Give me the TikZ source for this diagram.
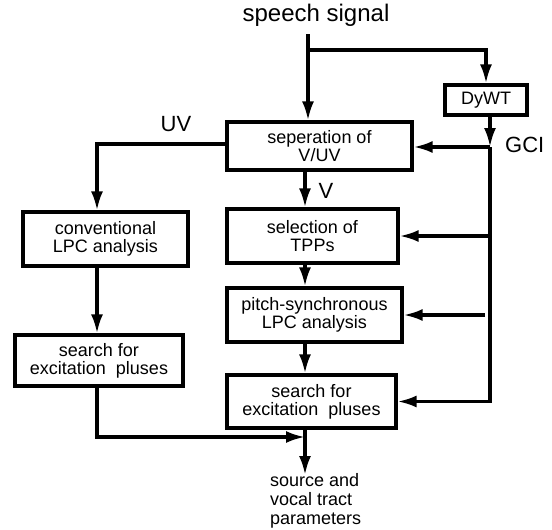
\documentclass[tikz,border=0pt]{standalone}
\usepackage{fontspec}
\setmainfont{Liberation Sans}
\usetikzlibrary{arrows.meta,positioning}
\tikzset{
	block/.style={draw, line width=3.2pt, align=center, inner sep=1pt, font=\fontsize{18}{18}\selectfont},
	flow/.style={line width=3.2pt, -{Latex[length=19pt,width=12pt]}},
	lbl/.style={font=\fontsize{22}{22}\selectfont, inner sep=0pt}
}
\begin{document}
\begin{tikzpicture}[x=1pt, y=-1pt]
			\useasboundingbox (0,0) rectangle (552,530);
			\node [lbl, font=\fontsize{24}{24}\selectfont] (sig) at (316,15) {speech signal};
			\node [block, minimum width=185pt, minimum height=48pt] (sep) at (319.5,146) {seperation of\\V/UV};
			\node [block, minimum width=82pt, minimum height=30pt] (dywt) at (486,100) {DyWT};
			\node [block, minimum width=165pt, minimum height=54pt] (conv) at (105.5,239) {conventional\\LPC analysis};
			\node [block, minimum width=168pt, minimum height=51pt] (srchu) at (99,360.5) {search for\\excitation~ pluses};
			\node [block, minimum width=171pt, minimum height=54pt] (sel) at (312.5,236) {selection of\\TPPs};
			\node [block, minimum width=175pt, minimum height=54pt] (pitch) at (314.5,315) {pitch-synchronous\\LPC analysis};
			\node [block, minimum width=169pt, minimum height=53pt] (srchv) at (311.5,401.5) {search for\\excitation~ pluses};
			\node [anchor=north west, align=left, inner sep=0pt, font=\fontsize{18}{19}\selectfont] (out) at (270,473) {source and\\vocal tract\\parameters};
			\coordinate (split) at (308,50);
			\coordinate (gci) at (490,147);
			\coordinate (uv) at (97,144);
			\coordinate (merge) at (305,437);
			\node [lbl] at (176,124) {UV};
			\node [lbl] at (326,191) {V};
			\node [lbl, anchor=west] at (505,145) {GCI};
			\draw [flow] ([yshift=-8pt]sig.south -| split) -- (sep.north -| split);
			\draw [flow] (split) -| (dywt.north);
			\draw [flow] (dywt.south -| gci) -- (gci);
			\draw [flow] (gci) -- (sep.east |- gci);
			\draw [flow] (gci) |- (srchv.east);
			\draw [flow] (gci |- sel.east) -- (sel.east);
			\draw [flow] ([xshift=-5pt]gci |- pitch.east) -- (pitch.east);
			\draw [flow] (sep.west |- uv) -- (uv) -- (uv |- conv.north);
			\draw [flow] (uv |- conv.south) -- (uv |- srchu.north);
			\draw [flow] (uv |- srchu.south) -- (uv |- merge) -- (merge);
			\draw [flow] (sep.south -| merge) -- (sel.north -| merge);
			\draw [flow] (sel.south -| merge) -- (pitch.north -| merge);
			\draw [flow] (pitch.south -| merge) -- (srchv.north -| merge);
			\draw [flow] (srchv.south -| merge) -- ([yshift=-2pt]merge |- out.north);
		\end{tikzpicture}
\end{document}
